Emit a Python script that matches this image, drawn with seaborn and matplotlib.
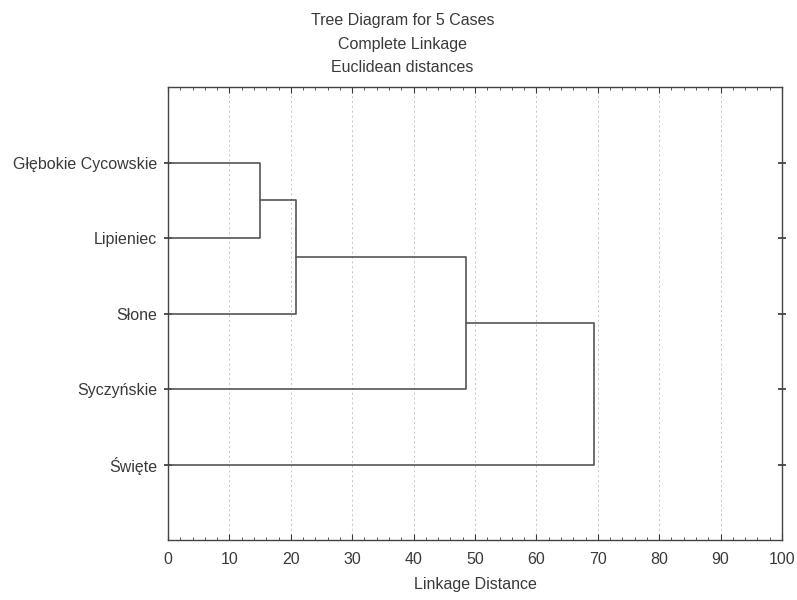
import numpy as np
import pandas as pd
import matplotlib
matplotlib.use("Agg")
import matplotlib.pyplot as plt
from matplotlib.ticker import MultipleLocator
import seaborn as sns

# leaves in display order (top to bottom)
cases = ["Głębokie Cycowskie", "Lipieniec", "Słone", "Syczyńskie", "Święte"]
# merges: (cluster a, cluster b, linkage distance); new clusters numbered from len(cases)
merge_a = [0, 5, 6, 7]
merge_b = [1, 2, 3, 4]
merge_dist = [15.0, 20.9, 48.6, 69.4]
title_lines = ["Tree Diagram for 5 Cases", "Complete Linkage", "Euclidean distances"]

sns.set_theme(style="white")
plt.rcParams["font.family"] = ["Liberation Sans", "DejaVu Sans"]
txt = "#3a3a3a"
plt.rcParams["text.color"] = txt
plt.rcParams["axes.labelcolor"] = txt
plt.rcParams["xtick.color"] = txt
plt.rcParams["ytick.color"] = txt

# build U-shaped segments
pos_x = {i: 0.0 for i in range(len(cases))}
pos_y = {i: float(i + 1) for i in range(len(cases))}
rows = []
for k, (a, b, d) in enumerate(zip(merge_a, merge_b, merge_dist)):
    pts = [(pos_x[a], pos_y[a]), (d, pos_y[a]), (d, pos_y[b]), (pos_x[b], pos_y[b])]
    for i, (x, y) in enumerate(pts):
        rows.append({"seg": k, "order": i, "x": x, "y": y})
    new = len(cases) + k
    pos_x[new] = d
    pos_y[new] = (pos_y[a] + pos_y[b]) / 2
df = pd.DataFrame(rows)

fig = plt.figure(figsize=(7.97, 6.0), dpi=100)
ax = fig.add_axes([0.2108, 0.1, 0.7704, 0.755])

ax.xaxis.grid(True, which="major", linestyle=(0, (2, 3)), color="#c4c4c4", linewidth=0.7)
ax.set_axisbelow(True)

sns.lineplot(data=df, x="x", y="y", units="seg", estimator=None, sort=False,
             color="#555555", linewidth=1.2, ax=ax, legend=False)

ax.set_xlim(0, 100)
ax.set_ylim(len(cases) + 1, 0)
ax.set_yticks(range(1, len(cases) + 1))
ax.set_yticklabels(cases, fontsize=11.5)
ax.xaxis.set_major_locator(MultipleLocator(10))
ax.xaxis.set_minor_locator(MultipleLocator(2))
ax.tick_params(axis="x", which="major", direction="in", length=4, top=True, bottom=True,
               labelsize=11.5, pad=9, width=0.8)
ax.tick_params(axis="x", which="minor", direction="in", length=2, top=True, bottom=True, width=0.6)
ax.tick_params(axis="y", direction="inout", length=6, left=True, right=True, labelsize=11.5, pad=5)

for s in ax.spines.values():
    s.set_visible(True)
    s.set_color("#444444")
    s.set_linewidth(1.0)

ax.set_xlabel("Linkage Distance", fontsize=11.5, labelpad=7)
ax.set_ylabel("")

for line, ypx in zip(title_lines, [21, 44, 68]):
    fig.text(0.505, 1 - ypx / 600, line, ha="center", va="center", fontsize=11.5, color=txt)

fig.savefig("out.png", dpi=100)
